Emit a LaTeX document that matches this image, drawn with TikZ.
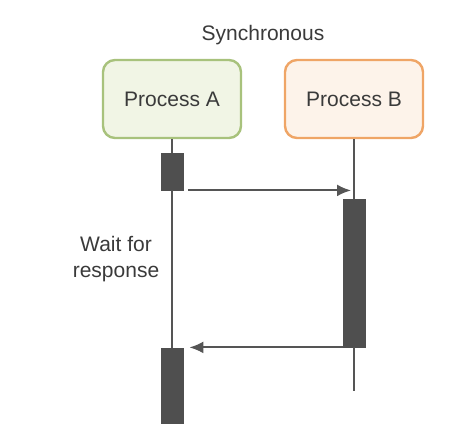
\documentclass[tikz,border=0pt]{standalone}
\usepackage{fontspec}
\setmainfont{Liberation Sans}
\usetikzlibrary{arrows.meta}
\usetikzlibrary{calc}

\definecolor{txtgray}{HTML}{3A3A3A}
\definecolor{linegray}{HTML}{555555}
\definecolor{bargray}{HTML}{4F4F4F}
\definecolor{agreen}{HTML}{A8C27C}
\definecolor{agreenfill}{HTML}{F1F5E5}
\definecolor{borange}{HTML}{EFA566}
\definecolor{borangefill}{HTML}{FDF3EA}

\tikzset{
  every node/.style={text=txtgray, font=\fontsize{10.5}{13}\selectfont},
  process/.style={rounded corners=6pt, line width=1.2pt,
    minimum width=69pt, minimum height=39pt},
  activation/.style={draw=bargray, fill=bargray, minimum width=11pt, inner sep=0pt},
  lifeline/.style={draw=linegray, line width=1pt},
  msg/.style={draw=linegray, line width=1pt, -{Latex[length=7pt, width=6pt]}}
}

\begin{document}
\begin{tikzpicture}[x=0.5pt, y=-0.5pt]
  \useasboundingbox (0,0) rectangle (474,436);

  \node (title) at (263,35) {Synchronous};

  \node [process, draw=agreen, fill=agreenfill] (procA) at (172,99) {Process A};
  \node [process, draw=borange, fill=borangefill] (procB) at (354,99) {Process B};

  \node [activation, minimum height=18.5pt] (actA1) at (172,171.5) {};
  \node [activation, minimum height=74pt] (actB) at (354.5,273) {};
  \node [activation, minimum height=37.5pt] (actA2) at (172,385.5) {};
  \coordinate (endB) at (354,391);

  \node [align=center] (wait) at (116,259) {Wait for\\response};

  % lifelines
  \draw [lifeline] (procA.south) -- (actA1.north);
  \draw [lifeline] (actA1.south) -- (actA2.north);
  \draw [lifeline] (procB.south) -- (actB.north -| procB.south);
  \draw [lifeline] (actB.south -| endB) -- (endB);

  % messages
  \draw [msg] ([xshift=2.5pt]actA1.south east) -- ([xshift=-1.5pt]actA1.south east -| procB.south);
  \draw [msg] (actB.south west) -- ([xshift=3pt]actB.south west -| actA2.north east);

\end{tikzpicture}
\end{document}
